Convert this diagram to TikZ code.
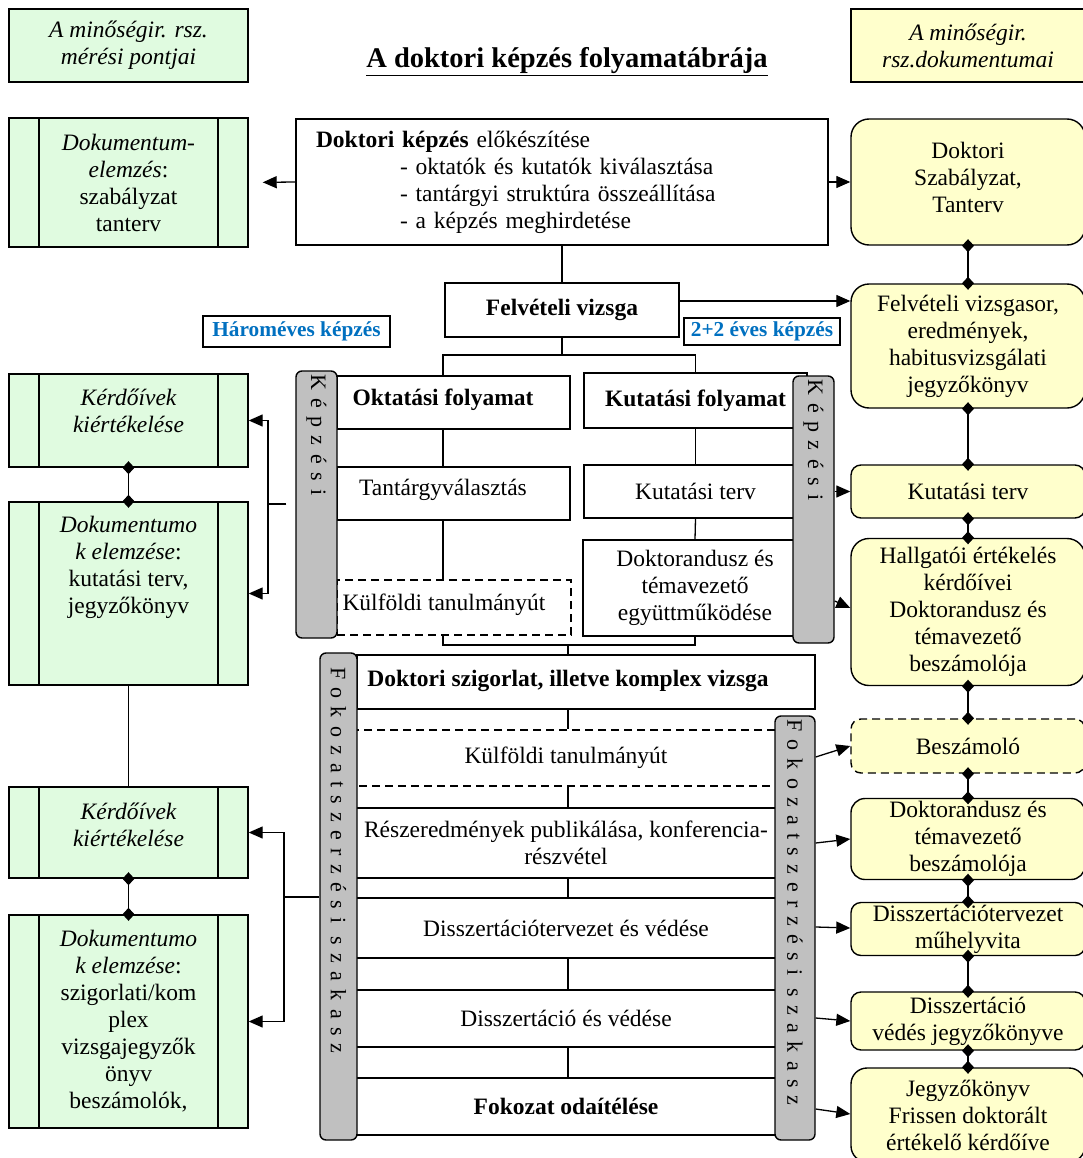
\documentclass[tikz,border=0pt]{standalone}
\usepackage{fontspec}
\setmainfont{Liberation Serif}
\usetikzlibrary{arrows.meta}
\definecolor{lgreen}{HTML}{E0FBE0}
\definecolor{lyellow}{HTML}{FFFFCC}
\definecolor{bargray}{HTML}{C0C0C0}
\definecolor{tblue}{HTML}{0070C0}
\newcommand{\fs}{\fontsize{23.5}{27}\selectfont}
\begin{document}
\begin{tikzpicture}[x=1pt,y=-1pt,
  every node/.style={inner sep=0pt, font=\fs},
  bf/.style={font=\fs\bfseries},
  itf/.style={font=\fs\itshape},
  sz/.style 2 args={minimum width=#1pt, minimum height=#2pt},
  wbox/.style={draw, line width=1.4pt, fill=white},
  lbox/.style={draw, line width=1.4pt, fill=lgreen, path picture={
     \draw[line width=1.4pt] ([xshift=30pt]path picture bounding box.north west) -- ([xshift=30pt]path picture bounding box.south west);
     \draw[line width=1.4pt] ([xshift=-30pt]path picture bounding box.north east) -- ([xshift=-30pt]path picture bounding box.south east);}},
  ybox/.style={draw, line width=1.4pt, fill=lyellow, rounded corners=#1},
  ybox/.default=18pt,
  dbox/.style={draw, line width=1.4pt, dash pattern=on 8pt off 5pt, fill=white},
  bar/.style={draw, line width=1.4pt, fill=bargray, rounded corners=6pt},
  ln/.style={line width=1.3pt},
  arr/.style={line width=1.3pt, -{Triangle[length=14pt,width=12pt]}},
  dia/.style={line width=1.3pt, {Diamond[length=13pt,width=12pt]}-{Diamond[length=13pt,width=12pt]}, shorten <=-6.5pt, shorten >=-6.5pt},
  bartext/.style={rotate=-90, anchor=west, font={\fontsize{22}{27}\selectfont\addfontfeature{LetterSpace=38}}},
  bartextb/.style={rotate=-90, anchor=west, font={\fontsize{22}{27}\selectfont\addfontfeature{LetterSpace=37.5}}},
  tag/.style={font=\fontsize{21.3}{27}\selectfont\bfseries, text=tblue},
]
\useasboundingbox (0,0) rectangle (1082,1158);
\fill[white] (0,0) rectangle (1082,1158);

% headers
\node[draw, line width=1.4pt, fill=lgreen, sz={239}{73}, itf, align=center] (hdrL) at (128.5,45.5) {A minőségir. rsz.\\mérési pontjai};
\node[draw, line width=1.4pt, fill=lyellow, sz={234}{73}, itf, align=center] (hdrR) at (968,45.5) {A minőségir.\\rsz.dokumentumai};
\node (title) at (567,62) {\fontsize{28.5}{32}\selectfont\bfseries\underline{A doktori képzés folyamatábrája}};

% left column
\node[lbox, sz={239}{129}, align=center] (docA) at (128.5,182.5) {\textit{Dokumentum-}\\\textit{elemzés}:\\szabályzat\\tanterv};
\node[lbox, sz={239}{93}] (kerd1) at (128.5,420.5) {};
\node[itf, align=center] (kerd1-t) at (128.5,411) {Kérdőívek\\kiértékelése};
\node[lbox, sz={239}{183}] (dok1) at (128.5,593.5) {};
\node[align=center] (dok1-t) at (128.5,567) {\textit{Dokumentumo}\\\textit{k elemzése}:\\kutatási terv,\\jegyzőkönyv};
\node[lbox, sz={239}{91}] (kerd2) at (128.5,832.5) {};
\node[itf, align=center] (kerd2-t) at (128.5,825) {Kérdőívek\\kiértékelése};
\node[lbox, sz={239}{213}, align=center] (dok2) at (128.5,1021.5) {\textit{Dokumentumo}\\\textit{k elemzése}:\\szigorlati/kom\\plex\\vizsgajegyzők\\önyv\\beszámolók,};

% top process
\node[wbox, sz={532}{126}, text width=492pt, inner xsep=20pt, align=left] (prep) at (562,182) {\textbf{Doktori képzés} előkészítése\\\hspace*{84pt}- oktatók és kutatók kiválasztása\\\hspace*{84pt}- tantárgyi struktúra összeállítása\\\hspace*{84pt}- a képzés meghirdetése};
\node[wbox, sz={234}{54}, bf] (felv) at (562,310) {Felvételi vizsga};
\node[wbox, sz={187}{31}, tag] (harom) at (296.5,331.5) {Hároméves képzés};
\node[wbox, sz={156}{27}, tag] (ketto) at (762,331.5) {2+2 éves képzés};

% képzési section
\node[wbox, sz={233}{53}] (okt) at (453.5,402.5) {};
\node[bf] (okt-t) at (443,400) {Oktatási folyamat};
\node[wbox, sz={223}{55}, bf] (kut) at (695.5,400.5) {Kutatási folyamat};
\node[wbox, sz={233}{53}] (tant) at (453.5,493.5) {};
\node (tant-t) at (443,490) {Tantárgyválasztás};
\node[wbox, sz={223}{53}] (kterv) at (695.5,491.5) {Kutatási terv};
\node[wbox, sz={224}{96}, align=center] (egyutt) at (695,588) {Doktorandusz és\\témavezető\\együttműködése};
\node[dbox, sz={234}{55}] (kulf1) at (454,607.5) {};
\node (kulf1-t) at (444,605) {Külföldi tanulmányút};

% fokozatszerzési section
\node[wbox, sz={458}{54}] (szig) at (586,682) {};
\node[bf] (szig-t) at (568,681) {Doktori szigorlat, illetve komplex vizsga};
\node[dbox, sz={440}{56}] (kulf2) at (566,758) {Külföldi tanulmányút};
\node[wbox, sz={440}{70}, align=center] (resz) at (566,843) {Részeredmények publikálása, konferencia-\\részvétel};
\node[wbox, sz={440}{60}] (dtv) at (566,928) {Disszertációtervezet és védése};
\node[wbox, sz={440}{57}] (dv) at (566,1018.5) {Disszertáció és védése};
\node[wbox, sz={440}{57}, bf] (fok) at (566,1106.5) {Fokozat odaítélése};

% bars
\node[bar, sz={41}{267}] (kbarL) at (316.5,504.5) {};
\node[bartext] (kbarL-t) at (316.5,374) {Képzési};
\node[bar, sz={41}{267}] (kbarR) at (813.5,509.5) {};
\node[bartext] (kbarR-t) at (813.5,379) {Képzési};
\node[bar, sz={37}{487}] (fbarL) at (338.5,896.5) {};
\node[bartextb] (fbarL-t) at (338.5,667) {Fokozatszerzési szakasz};
\node[bar, sz={40}{424}] (fbarR) at (795,928) {};
\node[bartextb] (fbarR-t) at (795,719) {Fokozatszerzési szakasz};

% right column
\node[ybox, sz={234}{126}] (szab) at (968,182) {};
\node[align=center] (szab-t) at (968,177) {Doktori\\Szabályzat,\\Tanterv};
\node[ybox, sz={234}{124}, align=center] (felvdoc) at (968,346) {Felvételi vizsgasor,\\eredmények,\\habitusvizsgálati\\jegyzőkönyv};
\node[ybox=10pt, sz={234}{53}] (rterv) at (968,491.5) {Kutatási terv};
\node[ybox, sz={234}{147}, align=center] (hallg) at (968,612) {Hallgatói értékelés\\kérdőívei\\Doktorandusz és\\témavezető\\beszámolója};
\node[ybox=10pt, dash pattern=on 8pt off 5pt, sz={234}{54}] (besz) at (968,746) {Beszámoló};
\node[ybox=14pt, sz={234}{81}, align=center] (dbesz) at (968,839) {Doktorandusz és\\témavezető\\beszámolója};
\node[ybox=10pt, sz={234}{53}, align=center] (mhv) at (968,929) {Disszertációtervezet\\műhelyvita};
\node[ybox=10pt, sz={234}{58}, align=center] (vedes) at (968,1021) {Disszertáció\\védés jegyzőkönyve};
\node[ybox=16pt, sz={234}{94}, align=center] (jegyz) at (968,1115) {Jegyzőkönyv\\Frissen doktorált\\értékelő kérdőíve};

% connectors - process
\coordinate (jA) at (562,355);
\draw[ln] (prep.south) -- (felv.north);
\draw[ln] (felv.south) -- (jA);
\draw[ln] (jA) -| ([xshift=-10.5pt]okt.north);
\draw[ln] (jA) -| (kut.north);
\draw[ln] ([xshift=-10.5pt]okt.south) -- ([xshift=-10.5pt]tant.north);
\draw[ln] ([xshift=-10.5pt]tant.south) -- ([xshift=-11pt]kulf1.north);
\draw[ln] (kut.south) -- (kterv.north);
\draw[ln] (kterv.south) -- (egyutt.north);
\coordinate (jB) at (568,645);
\draw[ln] ([xshift=-11pt]kulf1.south) |- (egyutt.south |- jB) -- (egyutt.south);
\draw[ln] (jB) -- (jB |- szig.north);
\draw[ln] (jB |- szig.south) -- (jB |- kulf2.north);
\draw[ln] (jB |- kulf2.south) -- (jB |- resz.north);
\draw[ln] (jB |- resz.south) -- (jB |- dtv.north);
\draw[ln] (jB |- dtv.south) -- (jB |- dv.north);
\draw[ln] (jB |- dv.south) -- (jB |- fok.north);

% arrows
\draw[arr, shorten >=14pt] (prep.west) -- (docA.east);
\draw[arr] (prep.east) -- (szab.west);
\draw[arr] (felv.east |- 0,301) -- (felvdoc.west |- 0,301);
\draw[arr] (kbarR.east |- rterv.west) -- (rterv.west);
\draw[arr] (kbarR.east |- 0,601) -- (hallg.west |- 0,608);
\coordinate (kL) at (268,504);
\draw[ln] ([xshift=-9pt]kbarL.west |- kL) -- (kL);
\draw[arr] (kL) |- (kerd1.east);
\draw[arr] (kL) |- (dok1.east);
\coordinate (fL) at (284,897);
\draw[ln] (fbarL.west |- fL) -- (fL);
\draw[arr] (fL) |- (kerd2.east);
\draw[arr] (fL) |- (dok2.east);
\draw[arr] (fbarR.east |- 0,757) -- (besz.west |- 0,746);
\draw[arr] (fbarR.east |- 0,843) -- (dbesz.west |- 0,839);
\draw[arr] (fbarR.east |- 0,927) -- (mhv.west |- 0,928);
\draw[arr] (fbarR.east |- 0,1018) -- (vedes.west |- 0,1021);
\draw[arr] (fbarR.east |- 0,1109) -- (jegyz.west |- 0,1114);

% diamond links
\draw[dia] (szab.south) -- (felvdoc.north);
\draw[dia] (felvdoc.south) -- (rterv.north);
\draw[dia] (rterv.south) -- (hallg.north);
\draw[dia] (hallg.south) -- (besz.north);
\draw[dia] (besz.south) -- (dbesz.north);
\draw[dia] (dbesz.south) -- (mhv.north);
\draw[dia] (mhv.south) -- (vedes.north);
\draw[dia] (vedes.south) -- (jegyz.north);
\draw[dia] (kerd1.south) -- (dok1.north);
\draw[dia] (kerd2.south) -- (dok2.north);
\draw[ln] (dok1.south) -- (kerd2.north);
\end{tikzpicture}
\end{document}
